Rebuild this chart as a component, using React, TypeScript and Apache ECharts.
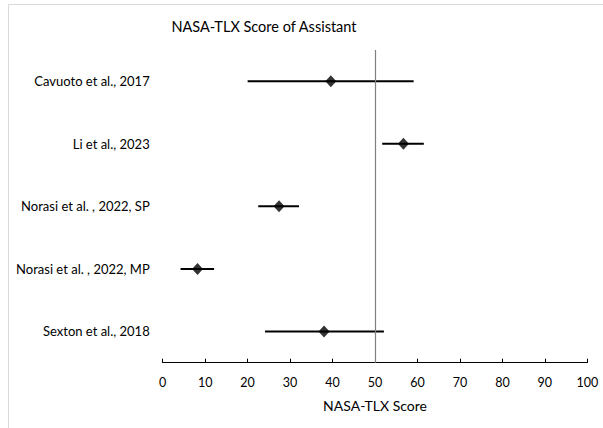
import React, { useEffect, useRef } from "react";
import * as echarts from "echarts";

const studies = [
  "Cavuoto et al., 2017",
  "Li et al., 2023",
  "Norasi et al. , 2022, SP",
  "Norasi et al. , 2022, MP",
  "Sexton et al., 2018",
];
const means = [39.6, 56.7, 27.4, 8.2, 38.0];
const lows = [20.0, 51.7, 22.5, 4.2, 24.1];
const highs = [59.1, 61.5, 32.1, 12.1, 52.1];
const referenceValue = 50;

const FONT = "Lato";

export default function App() {
  const ref = useRef<HTMLDivElement>(null);
  useEffect(() => {
    if (!ref.current) return;
    const chart = echarts.init(ref.current, null, { renderer: "svg" });
    chart.setOption({
      animation: false,
      backgroundColor: "#fff",
      textStyle: { fontFamily: FONT },
      graphic: [
        {
          type: "rect",
          shape: { x: 8.5, y: 4.5, width: 700, height: 500 },
          style: { fill: "none", stroke: "#d9d9d9", lineWidth: 1 },
          silent: true,
        },
        {
          type: "text",
          x: 264,
          y: 26,
          style: {
            text: "NASA-TLX Score of Assistant",
            fontFamily: FONT,
            fontSize: 14.5,
            fill: "#000",
            align: "center",
            verticalAlign: "middle",
          },
        },
      ],
      grid: { left: 162.7, right: 15.7, top: 50, bottom: 65.3 },
      xAxis: {
        type: "value",
        min: 0,
        max: 100,
        interval: 10,
        splitLine: { show: false },
        axisLine: { show: true, lineStyle: { color: "#000", width: 1.2 } },
        axisTick: { show: true, inside: true, length: 4, lineStyle: { color: "#000" } },
        axisLabel: { color: "#000", fontSize: 12.5, margin: 13, fontFamily: FONT },
        name: "NASA-TLX Score",
        nameLocation: "middle",
        nameGap: 36,
        nameTextStyle: { color: "#000", fontSize: 14, fontFamily: FONT },
      },
      yAxis: {
        type: "category",
        data: studies,
        inverse: true,
        axisLine: { show: false },
        axisTick: { show: false },
        splitLine: { show: false },
        axisLabel: { color: "#000", fontSize: 13, margin: 13, fontFamily: FONT },
      },
      series: [
        {
          type: "custom",
          renderItem: (params: any, api: any) => {
            const lo = api.coord([api.value(0), api.value(1)]);
            const hi = api.coord([api.value(2), api.value(1)]);
            return {
              type: "line",
              shape: { x1: lo[0], y1: lo[1], x2: hi[0], y2: hi[1] },
              style: { stroke: "#000", lineWidth: 2 },
            };
          },
          encode: { x: [0, 2], y: 1 },
          data: studies.map((_, i) => [lows[i], i, highs[i]]),
          z: 2,
        },
        {
          type: "scatter",
          symbol: "diamond",
          symbolSize: [11, 12],
          itemStyle: { color: "#000" },
          data: studies.map((_, i) => [means[i], i]),
          z: 3,
          markLine: {
            silent: true,
            symbol: "none",
            label: { show: false },
            lineStyle: { color: "#808080", width: 1.2, type: "solid" },
            data: [{ xAxis: referenceValue }],
          },
        },
      ],
    });
    return () => chart.dispose();
  }, []);
  return (
    <div
      ref={ref}
      style={{ position: "fixed", left: 0, top: 0, width: 603, height: 428 }}
    />
  );
}
